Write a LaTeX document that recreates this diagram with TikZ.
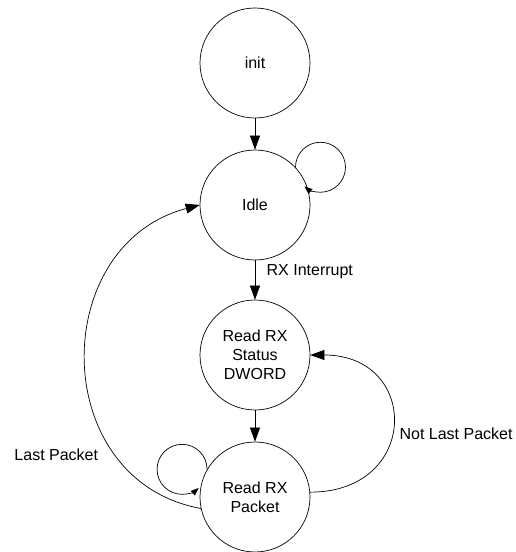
\documentclass[tikz,border=0pt]{standalone}
\usepackage{fontspec}
\setmainfont{Liberation Sans}
\usetikzlibrary{arrows.meta}
\begin{document}
\begin{tikzpicture}[x=1pt, y=1pt, line width=0.7pt,
  state/.style={draw, circle, minimum size=110pt, inner sep=0pt, align=center,
    font=\fontsize{16}{19}\selectfont},
  trans/.style={-{Triangle[length=14pt,width=10pt]}},
  selftrans/.style={-{Triangle[length=8pt,width=6pt]}},
  lbl/.style={font=\fontsize{16}{19}\selectfont}]
  \useasboundingbox (0,0) rectangle (515,552);
  % states
  \node [state] (init) at (255,489) {init};
  \node [state] (idle) at (255,347) {Idle};
  \node [state] (status) at (255,197) {Read RX\\Status\\DWORD};
  \node [state] (packet) at (255,55) {Read RX\\Packet};
  % transitions
  \draw [trans] (init) -- (idle);
  \draw [trans] (idle) -- node [pos=0.3, right=8pt, lbl] {RX Interrupt} (status);
  \draw [trans] (status) -- (packet);
  \draw [trans] (packet.5) .. controls +(110,0) and +(110,0) .. node [pos=0.45, anchor=west, xshift=4pt, lbl] {Not Last Packet} (status.0);
  \draw [trans] (packet.192) .. controls +(-153,28) and +(-152,-40) .. node [pos=0.25, anchor=east, xshift=-13pt, lbl] {Last Packet} (idle.180);
  % self loops
  \draw [selftrans] (idle.43) arc [start angle=180, end angle=-130, radius=25pt];
  \draw [selftrans] (packet.150) arc [start angle=0, end angle=312, radius=25pt];
\end{tikzpicture}
\end{document}
